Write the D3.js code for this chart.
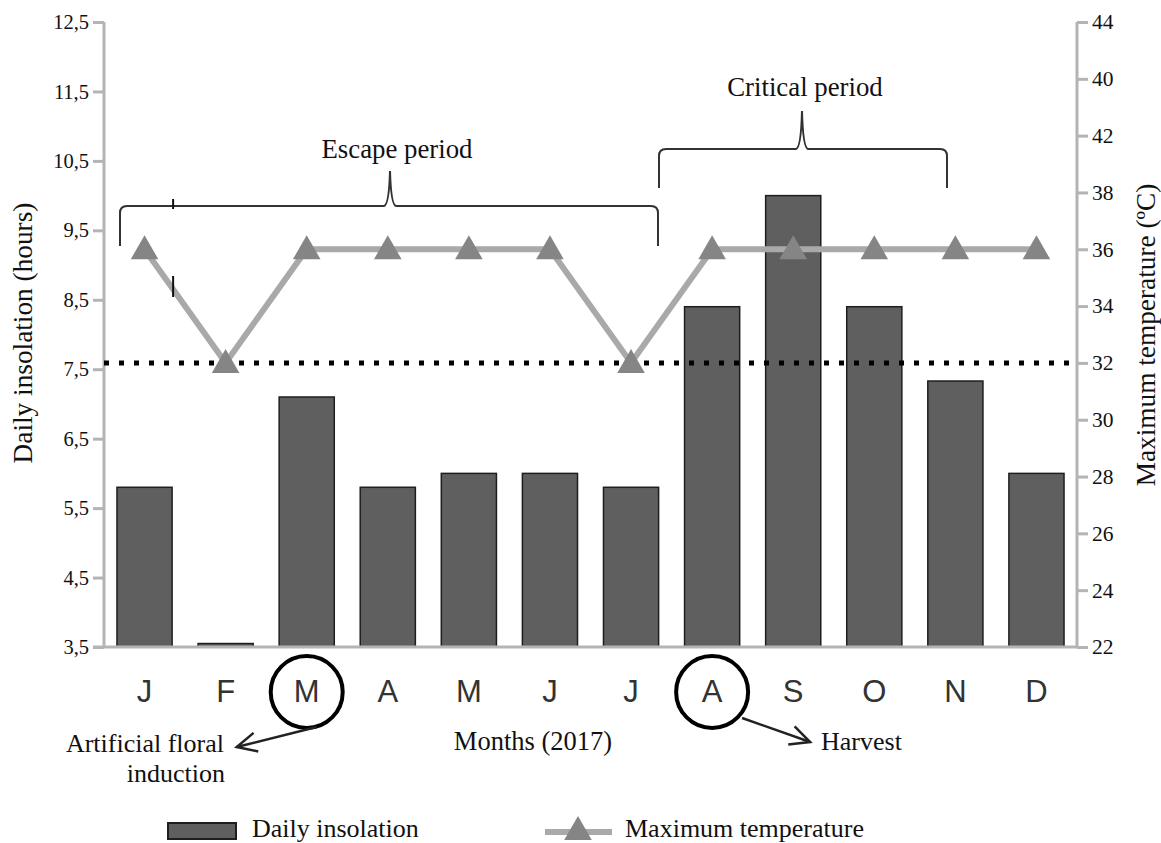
<!DOCTYPE html>
<html>
<head>
<meta charset="utf-8">
<script src="https://cdn.jsdelivr.net/npm/d3@7"></script>
<style>
  body { margin: 0; background: #fff; }
  text { font-family: "Liberation Serif", "Times New Roman", serif; fill: #111; }
  .month { font-family: "Liberation Sans", Arial, sans-serif; fill: #333; }
</style>
</head>
<body>
<div id="container"></div>
<script>
/* CONSTANTS AND GLOBALS */
const width = 1161;
const height = 843;
const plotLeft = 104, plotRight = 1077, plotTop = 22, plotBottom = 647;

/* DATA */
const months = ["J", "F", "M", "A", "M", "J", "J", "A", "S", "O", "N", "D"];
const insolation = [5.8, 3.55, 7.1, 5.8, 6.0, 6.0, 5.8, 8.4, 10.0, 8.4, 7.33, 6.0];
const maxTemp = [36, 32, 36, 36, 36, 36, 32, 36, 36, 36, 36, 36];
const leftTicks = [3.5, 4.5, 5.5, 6.5, 7.5, 8.5, 9.5, 10.5, 11.5, 12.5];
const rightTicks = [22, 24, 26, 28, 30, 32, 34, 36, 38, 40, 42, 44];
const rightTickLabels = ["22", "24", "26", "28", "30", "32", "34", "36", "38", "42", "40", "44"];
const threshold = 32;

/* SCALES */
const idx = months.map((d, i) => i);
const xScale = d3.scaleBand()
  .domain(idx)
  .range([plotLeft, plotRight])
  .paddingInner(0.32)
  .paddingOuter(0.16);

const yLeft = d3.scaleLinear().domain([3.5, 12.5]).range([plotBottom, plotTop]);
const yRight = d3.scaleLinear().domain([22, 44]).range([plotBottom, plotTop]);

const xc = i => xScale(i) + xScale.bandwidth() / 2;

/* SVG */
const svg = d3.select("#container")
  .append("svg")
  .attr("width", width)
  .attr("height", height);

const axisColor = "#b4b4b4";

// left axis
const gl = svg.append("g")
  .attr("transform", `translate(${plotLeft},0)`)
  .call(d3.axisLeft(yLeft).tickValues(leftTicks).tickSize(11).tickPadding(4)
    .tickFormat(d => d3.format(".1f")(d).replace(".", ",")));
gl.select(".domain").remove();
gl.selectAll(".tick line").attr("stroke", axisColor).attr("stroke-width", 3);
gl.selectAll(".tick text").style("font-size", "20.5px").attr("fill", "#111")
  .style("font-family", "Liberation Serif");

// right axis
const gr = svg.append("g")
  .attr("transform", `translate(${plotRight},0)`)
  .call(d3.axisRight(yRight).tickValues(rightTicks).tickSize(11).tickPadding(4)
    .tickFormat((d, i) => rightTickLabels[i]));
gr.select(".domain").remove();
gr.selectAll(".tick line").attr("stroke", axisColor).attr("stroke-width", 3);
gr.selectAll(".tick text").style("font-size", "21.5px").attr("fill", "#111")
  .style("font-family", "Liberation Serif");

// axis lines
svg.append("line").attr("x1", plotLeft).attr("x2", plotLeft).attr("y1", plotTop).attr("y2", plotBottom)
  .attr("stroke", axisColor).attr("stroke-width", 3);
svg.append("line").attr("x1", plotRight).attr("x2", plotRight).attr("y1", plotTop).attr("y2", plotBottom)
  .attr("stroke", axisColor).attr("stroke-width", 3);

// bars
svg.selectAll("rect.bar")
  .data(insolation)
  .join("rect")
  .attr("class", "bar")
  .attr("x", (d, i) => xScale(i))
  .attr("width", xScale.bandwidth())
  .attr("y", d => yLeft(d))
  .attr("height", d => yLeft(3.5) - yLeft(d))
  .attr("fill", "#5f5f5f")
  .attr("stroke", "#1e1e1e")
  .attr("stroke-width", 1.5);

// baseline
svg.append("line").attr("x1", plotLeft - 11).attr("x2", plotRight).attr("y1", plotBottom).attr("y2", plotBottom)
  .attr("stroke", axisColor).attr("stroke-width", 3);

// threshold dotted line
svg.append("line")
  .attr("x1", plotLeft).attr("x2", plotRight)
  .attr("y1", yRight(threshold)).attr("y2", yRight(threshold))
  .attr("stroke", "#000").attr("stroke-width", 5)
  .attr("stroke-dasharray", "5 10");

// temperature line
const line = d3.line().x((d, i) => xc(i)).y(d => yRight(d));
svg.append("path")
  .datum(maxTemp)
  .attr("d", line)
  .attr("fill", "none")
  .attr("stroke", "#a9a9a9")
  .attr("stroke-width", 6);

const tri = d3.symbol().type(d3.symbolTriangle).size(330);
svg.selectAll("path.tri")
  .data(maxTemp)
  .join("path")
  .attr("class", "tri")
  .attr("d", tri)
  .attr("transform", (d, i) => `translate(${xc(i)},${yRight(d) + 2})`)
  .attr("fill", "#858585");

// month labels
svg.selectAll("text.month")
  .data(months)
  .join("text")
  .attr("class", "month")
  .attr("x", (d, i) => xc(i))
  .attr("y", 702)
  .attr("text-anchor", "middle")
  .style("font-size", "31px")
  .text(d => d);

// circles around M and A
[2, 7].forEach(i => {
  svg.append("circle")
    .attr("cx", xc(i)).attr("cy", 692).attr("r", 36)
    .attr("fill", "none").attr("stroke", "#000").attr("stroke-width", 4);
});

// arrows
function arrow(x1, y1, x2, y2) {
  svg.append("line").attr("x1", x1).attr("y1", y1).attr("x2", x2).attr("y2", y2)
    .attr("stroke", "#222").attr("stroke-width", 2.5);
  const a = Math.atan2(y2 - y1, x2 - x1);
  const L = 22, s = 0.45;
  const p1 = [x2 - L * Math.cos(a - s), y2 - L * Math.sin(a - s)];
  const p2 = [x2 - L * Math.cos(a + s), y2 - L * Math.sin(a + s)];
  svg.append("path")
    .attr("d", `M${p1}L${x2},${y2}L${p2}`)
    .attr("fill", "none").attr("stroke", "#222").attr("stroke-width", 2.5);
}
arrow(xc(2) + 10, 727, xc(2) - 70, 747);
arrow(xc(7) + 30, 718, xc(7) + 98, 742);

// annotations under axis
svg.append("text").attr("x", 224).attr("y", 752).attr("text-anchor", "end")
  .style("font-size", "26px").text("Artificial floral");
svg.append("text").attr("x", 225).attr("y", 782).attr("text-anchor", "end")
  .style("font-size", "26px").text("induction");
svg.append("text").attr("x", 533).attr("y", 750).attr("text-anchor", "middle")
  .style("font-size", "26.5px").text("Months (2017)");
svg.append("text").attr("x", 821).attr("y", 750)
  .style("font-size", "26px").text("Harvest");

// braces
function brace(x1, x2, xm, yb, yh, yt) {
  const r = 7;
  const d = `M${x1},${yb} L${x1},${yh + r} Q${x1},${yh} ${x1 + r},${yh}
    L${xm - 6},${yh} Q${xm - 1},${yh - 1} ${xm},${yt}
    Q${xm + 1},${yh - 1} ${xm + 6},${yh}
    L${x2 - r},${yh} Q${x2},${yh} ${x2},${yh + r} L${x2},${yb}`;
  svg.append("path").attr("d", d)
    .attr("fill", "none").attr("stroke", "#333").attr("stroke-width", 2);
}
brace(120, 658, 390, 246, 206, 171);
brace(659, 947, 802, 188, 149, 111);

svg.append("text").attr("x", 397).attr("y", 158).attr("text-anchor", "middle")
  .style("font-size", "26.8px").text("Escape period");
svg.append("text").attr("x", 805).attr("y", 96).attr("text-anchor", "middle")
  .style("font-size", "26.8px").text("Critical period");

// small stray marks from the original
const xm0 = xScale(0) + xScale.bandwidth() + 1;
svg.append("line").attr("x1", xm0).attr("x2", xm0).attr("y1", 199).attr("y2", 209)
  .attr("stroke", "#111").attr("stroke-width", 2);
svg.append("line").attr("x1", xm0).attr("x2", xm0).attr("y1", 276).attr("y2", 297)
  .attr("stroke", "#111").attr("stroke-width", 2);

// axis titles
svg.append("text")
  .attr("transform", `translate(32,333) rotate(-90)`)
  .attr("text-anchor", "middle")
  .style("font-size", "27.3px")
  .text("Daily insolation (hours)");
svg.append("text")
  .attr("transform", `translate(1155,335) rotate(-90)`)
  .attr("text-anchor", "middle")
  .style("font-size", "27.3px")
  .text("Maximum temperature (ºC)");

// legend
svg.append("rect").attr("x", 168).attr("y", 823).attr("width", 68).attr("height", 16)
  .attr("fill", "#5f5f5f").attr("stroke", "#1e1e1e").attr("stroke-width", 2);
svg.append("text").attr("x", 252).attr("y", 837).style("font-size", "26px").text("Daily insolation");
svg.append("line").attr("x1", 545).attr("x2", 612).attr("y1", 832).attr("y2", 832)
  .attr("stroke", "#a9a9a9").attr("stroke-width", 6);
svg.append("path").attr("d", tri).attr("transform", "translate(578,832)").attr("fill", "#858585");
svg.append("text").attr("x", 625).attr("y", 837).style("font-size", "26px").text("Maximum temperature");
</script>
</body>
</html>
